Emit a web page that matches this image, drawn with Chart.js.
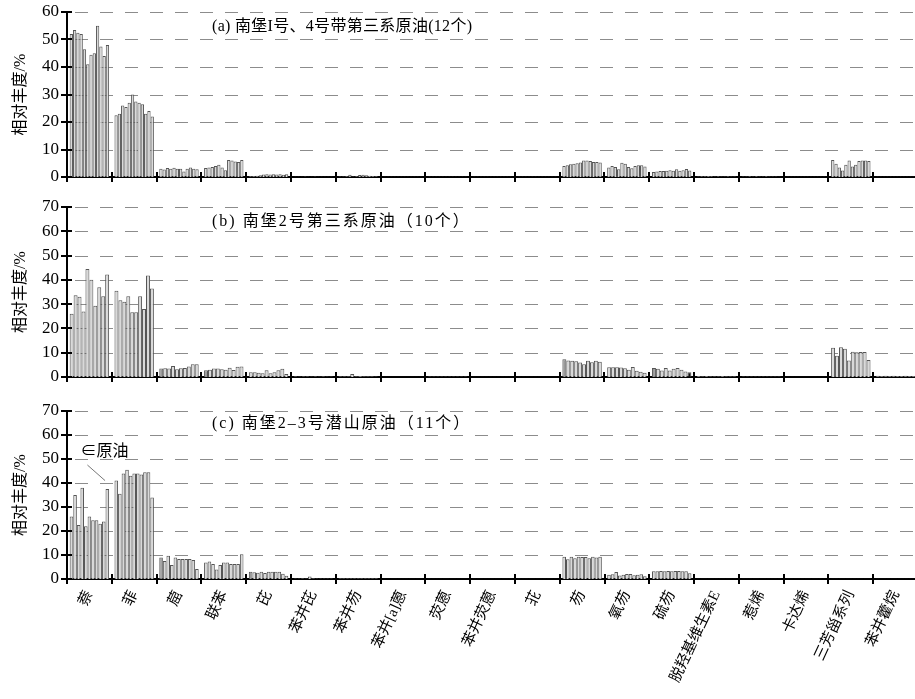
<!DOCTYPE html>
<html><head><meta charset="utf-8">
<script src="https://cdn.jsdelivr.net/npm/chart.js@4.4.1/dist/chart.umd.min.js"></script>
<style>
html,body{margin:0;padding:0;background:#fff;overflow:hidden;width:915px;height:699px;position:relative}
canvas{position:absolute;left:0}
</style></head><body>
<canvas id="ca" width="918" height="187" style="top:0px"></canvas>
<canvas id="cb" width="918" height="192" style="top:195px"></canvas>
<canvas id="cc" width="921" height="300" style="top:399px"></canvas>
<script>
// ---------------- DATA ----------------
const categories = ['萘','菲','䓛','联苯','芘','苯并芘','苯并芴','苯并[a]蒽','荧蒽','苯并荧蒽','苝','芴','氧芴','硫芴','脱羟基维生素E','惹烯','卡达烯','三芳甾系列','苯并藿烷'];
const yTicksA = [0,10,20,30,40,50,60];
const yTicksBC = [0,10,20,30,40,50,60,70];

// Panel (a): 12 samples, one row per category (same order as categories)
const panelA = [
  [52, 53.5, 52.5, 52, 46.5, 41, 44.5, 45, 55, 47.5, 44, 48],
  [22.5, 23, 26, 25.5, 27, 30, 27.5, 27, 26.5, 23, 24, 22],
  [3, 2.7, 3.3, 3, 3.4, 3, 3, 2, 3, 3.5, 3, 2.8],
  [3.3, 3.5, 3.6, 4, 4.5, 3.5, 2.5, 6.2, 6, 5.6, 5.5, 6.2],
  [0.3, 0.4, 0.5, 0.6, 0.9, 1, 0.9, 1, 0.9, 1, 0.8, 1],
  [0.1, 0.1, 0.1, 0.2, 0.1, 0.1, 0.2, 0.1, 0.1, 0.1, 0.1, 0.1],
  [0.2, 0.2, 0.3, 0.8, 0.2, 0.3, 0.7, 0.8, 0.6, 0.5, 0.4, 0.3],
  [0.1, 0.1, 0.1, 0.1, 0.1, 0.1, 0.1, 0.1, 0.1, 0.1, 0.1, 0.1],
  [0.1, 0.1, 0.1, 0.1, 0.1, 0.1, 0.1, 0.1, 0.1, 0.1, 0.1, 0.1],
  [0.1, 0.1, 0.1, 0.1, 0.1, 0.1, 0.1, 0.1, 0.1, 0.1, 0.1, 0.1],
  [0.1, 0.1, 0.1, 0.1, 0.1, 0.1, 0.1, 0.1, 0.1, 0.1, 0.1, 0.1],
  [4, 4.3, 4.6, 4.8, 5, 5.3, 6, 6, 5.8, 5.5, 5.5, 5.3],
  [3.5, 4, 3.6, 2.8, 5.2, 4.8, 3.6, 3.2, 4, 4.3, 4.3, 3.8],
  [1.8, 2, 2.2, 2.2, 2.3, 2.5, 2.3, 2.8, 2.3, 2.5, 2.9, 2.4],
  [0.2, 0.3, 0.3, 0.4, 0.3, 0.2, 0.3, 0.2, 0.2, 0.3, 0.2, 0.2],
  [0.2, 0.2, 0.3, 0.2, 0.3, 0.2, 0.2, 0.3, 0.2, 0.2, 0.2, 0.1],
  [0.1, 0.1, 0.1, 0.1, 0.1, 0.1, 0.1, 0.1, 0.1, 0.1, 0.1, 0.1],
  [6.2, 4.8, 3.5, 2.4, 4.5, 6, 3.8, 4.5, 5.8, 6, 6, 5.8],
  [0.1, 0.1, 0.1, 0.1, 0.1, 0.1, 0.1, 0.1, 0.1, 0.1, 0.1, 0.1]
];
// Panel (b): 10 samples
const panelB = [
  [26, 33.7, 33, 27, 44.5, 40, 29.3, 37, 33.3, 42.2],
  [35.5, 31.6, 31, 33.3, 26.7, 26.7, 33.3, 28, 41.8, 36.4],
  [3.5, 3.6, 3.5, 4.5, 3.2, 3.6, 3.7, 4.3, 5.2, 5.2],
  [2.8, 3, 3.5, 3.5, 3.2, 3, 3.8, 2.9, 4.2, 4.3],
  [2, 2, 1.8, 1.5, 2.8, 1.5, 2, 2.8, 3.4, 1.2],
  [0.3, 0.2, 0.3, 0.3, 0.2, 0.3, 0.2, 0.3, 0.2, 0.2],
  [0.3, 0.3, 0.3, 1.2, 0.3, 0.4, 0.3, 0.3, 0.3, 0.2],
  [0.1, 0.1, 0.1, 0.1, 0.1, 0.1, 0.1, 0.1, 0.1, 0.1],
  [0.2, 0.2, 0.2, 0.2, 0.2, 0.2, 0.2, 0.2, 0.2, 0.2],
  [0.1, 0.1, 0.1, 0.1, 0.1, 0.1, 0.1, 0.1, 0.1, 0.1],
  [0.1, 0.1, 0.1, 0.1, 0.1, 0.1, 0.1, 0.1, 0.1, 0.1],
  [7.3, 6.8, 6.7, 6.5, 6, 5.3, 6.7, 6.1, 6.7, 6.3],
  [4, 4, 4, 3.9, 3.6, 3, 4.1, 2.6, 2.2, 1.8],
  [3.7, 3.4, 2.7, 3.7, 2.7, 3.4, 3.7, 3, 2.3, 2],
  [0.4, 0.3, 0.4, 0.3, 0.3, 0.3, 0.4, 0.3, 0.3, 0.3],
  [0.2, 0.2, 0.2, 0.2, 0.2, 0.2, 0.2, 0.2, 0.2, 0.2],
  [0.1, 0.1, 0.1, 0.1, 0.1, 0.1, 0.1, 0.1, 0.1, 0.1],
  [12, 8.8, 12.2, 11.6, 6.8, 10.4, 10.2, 10.3, 10.3, 7],
  [0.5, 0.4, 0.5, 0.4, 0.5, 0.4, 0.4, 0.5, 0.4, 0.4]
];
// Panel (c): 11 samples
const panelC = [
  [26, 35, 22.5, 38, 22, 26, 24.5, 24.5, 23, 24, 37.5],
  [41, 35.5, 44, 45.5, 43, 44, 44, 43.5, 44.5, 44.5, 34],
  [9, 7.5, 9.7, 5.8, 9, 8.3, 8.3, 8.3, 8.3, 7.9, 4.2],
  [6.9, 7.3, 6.2, 4, 5.8, 6.9, 6.9, 6.3, 6.3, 6.3, 10.3],
  [3, 2.8, 2.6, 3, 2.5, 3, 3, 3, 3, 2.2, 1.4],
  [0.2, 0.2, 0.3, 0.2, 1, 0.3, 0.2, 0.2, 0.2, 0.2, 0.2],
  [0.3, 0.3, 0.3, 0.3, 0.3, 0.3, 0.3, 0.3, 0.3, 0.3, 0.3],
  [0.1, 0.1, 0.1, 0.1, 0.1, 0.1, 0.1, 0.1, 0.1, 0.1, 0.1],
  [0.1, 0.1, 0.1, 0.1, 0.1, 0.1, 0.1, 0.1, 0.1, 0.1, 0.1],
  [0.1, 0.1, 0.1, 0.1, 0.1, 0.1, 0.1, 0.1, 0.1, 0.1, 0.1],
  [0.1, 0.1, 0.1, 0.1, 0.1, 0.1, 0.1, 0.1, 0.1, 0.1, 0.1],
  [9.3, 8.2, 9.3, 8.6, 9.3, 9.2, 9.2, 8.6, 9.3, 9, 9.3],
  [1.8, 2, 2.9, 1.5, 1.8, 2.1, 2.1, 1.6, 1.8, 2, 1.1],
  [3.2, 3.2, 3.3, 3.2, 3.3, 3.2, 3.3, 3.3, 3.2, 3.2, 2.4],
  [0.1, 0.1, 0.1, 0.1, 0.1, 0.1, 0.1, 0.1, 0.1, 0.1, 0.1],
  [0.1, 0.1, 0.1, 0.1, 0.1, 0.1, 0.1, 0.1, 0.1, 0.1, 0.1],
  [0.1, 0.1, 0.1, 0.1, 0.1, 0.1, 0.1, 0.1, 0.1, 0.1, 0.1],
  [0.1, 0.1, 0.1, 0.1, 0.1, 0.1, 0.1, 0.1, 0.1, 0.1, 0.1],
  [0.1, 0.1, 0.1, 0.1, 0.1, 0.1, 0.1, 0.1, 0.1, 0.1, 0.1]
];
const titleA = '(a) 南堡I号、4号带第三系原油(12个)';
const titleB = '(b) 南堡2号第三系原油（10个）';
const titleC = '(c) 南堡2–3号潜山原油（11个）';
const yTitle = '相对丰度/%';
const noteC = '∈原油';

// ---------------- STYLE ----------------
const FONT = "'Liberation Serif','Noto Sans CJK SC',serif";
const fillLight = '#d9d9d9', fillMid = '#9a9a9a', fillDark = '#111111', edge = '#555555';
const midBars = { b: [[0,2],[0,3],[0,11],[0,13]], c: [[0,2],[0,4]] };
const darkBars = { b: [[9,13]] };

function buildDatasets(rows, key) {
  const n = rows[0].length;
  const mids = midBars[key] || [], darks = darkBars[key] || [];
  const sets = [];
  for (let s = 0; s < n; s++) {
    sets.push({
      label: 'S' + (s + 1),
      data: rows.map(r => r[s]),
      backgroundColor: (ctx) => {
        if (darks.some(d => d[0] === ctx.datasetIndex && d[1] === ctx.dataIndex)) return fillDark;
        if (mids.some(d => d[0] === ctx.datasetIndex && d[1] === ctx.dataIndex)) return fillMid;
        return fillLight;
      },
      borderColor: edge,
      borderWidth: 1,
      categoryPercentage: 0.88,
      barPercentage: 1.0
    });
  }
  return sets;
}

function decor(id, title, titleVal, spacing, extra) {
  return {
    id: 'decor' + id,
    beforeDatasetsDraw(chart) {
      const { ctx, chartArea: a, scales: { y } } = chart;
      ctx.save();
      ctx.strokeStyle = '#8c8c8c'; ctx.lineWidth = 1; ctx.setLineDash([13, 12]);
      y.ticks.forEach(t => {
        if (t.value <= 0) return;
        const py = Math.round(y.getPixelForValue(t.value)) + 0.5;
        ctx.beginPath(); ctx.moveTo(a.left + 8, py); ctx.lineTo(a.right, py); ctx.stroke();
      });
      ctx.restore();
    },
    afterDraw(chart) {
      const { ctx, chartArea: a, scales: { x, y } } = chart;
      ctx.save();
      ctx.strokeStyle = '#000'; ctx.lineWidth = 2;
      y.ticks.forEach(t => {
        const py = Math.round(y.getPixelForValue(t.value));
        ctx.beginPath(); ctx.moveTo(a.left - 6, py); ctx.lineTo(a.left + 5, py); ctx.stroke();
      });
      const w = x.getPixelForValue(1) - x.getPixelForValue(0);
      for (let i = 0; i <= categories.length; i++) {
        const px = Math.round(x.getPixelForValue(i) - w / 2);
        ctx.beginPath(); ctx.moveTo(px, a.bottom - 5); ctx.lineTo(px, a.bottom + 5); ctx.stroke();
      }
      ctx.fillStyle = '#000';
      ctx.font = "16px " + FONT;
      try { ctx.letterSpacing = spacing; } catch (e) {}
      ctx.textBaseline = 'middle'; ctx.textAlign = 'left';
      ctx.fillText(title, a.left + 145, y.getPixelForValue(titleVal));
      try { ctx.letterSpacing = '0px'; } catch (e) {}
      if (extra) extra(chart);
      ctx.restore();
    }
  };
}

function makeChart(canvasId, rows, key, yTicks, xHeight, showLabels, title, titleVal, spacing, extra) {
  const ymax = yTicks[yTicks.length - 1];
  return new Chart(document.getElementById(canvasId), {
    type: 'bar',
    data: { labels: categories, datasets: buildDatasets(rows, key) },
    options: {
      responsive: false, animation: false,
      layout: { padding: { top: 12, left: 0, right: 0, bottom: 0 } },
      plugins: { legend: { display: false }, tooltip: { enabled: false } },
      scales: {
        x: {
          grid: { display: false, drawTicks: false },
          border: { display: true, color: '#000', width: 2 },
          ticks: {
            display: showLabels, autoSkip: false, minRotation: 65, maxRotation: 65,
            padding: 9, color: '#000', font: { family: FONT, size: 15 }
          },
          afterFit(s) { s.height = xHeight; }
        },
        y: {
          min: 0, max: ymax,
          afterBuildTicks(s) { s.ticks = yTicks.map(v => ({ value: v })); },
          grid: { display: false, drawTicks: false },
          border: { display: true, color: '#000', width: 2 },
          ticks: { autoSkip: false, padding: 8, color: '#000', font: { family: FONT, size: 17, lineHeight: 0.2 } },
          title: { display: true, text: yTitle, color: '#000', font: { family: FONT, size: 16 }, padding: { top: 11, bottom: 0 } },
          afterFit(s) { s.width = 67; }
        }
      }
    },
    plugins: [decor(canvasId, title, titleVal, spacing, extra)]
  });
}

makeChart('ca', panelA, 'a', yTicksA, 10, false, titleA, 54.5, '0.3px');
makeChart('cb', panelB, 'b', yTicksBC, 10, false, titleB, 63.8, '2px');
makeChart('cc', panelC, 'c', yTicksBC, 120, true, titleC, 64.6, '2px', (chart) => {
  const { ctx, scales: { x, y } } = chart;
  const w = x.getPixelForValue(1) - x.getPixelForValue(0);
  const x0 = x.getPixelForValue(0);
  ctx.font = "16px " + FONT;
  ctx.textAlign = 'left'; ctx.textBaseline = 'middle';
  ctx.fillText(noteC, x0 - 9, y.getPixelForValue(53));
  ctx.strokeStyle = '#777'; ctx.lineWidth = 1;
  ctx.beginPath();
  ctx.moveTo(x0 - 2, y.getPixelForValue(47.5));
  ctx.lineTo(x0 + w * 0.35, y.getPixelForValue(41));
  ctx.stroke();
});
</script>
</body></html>
